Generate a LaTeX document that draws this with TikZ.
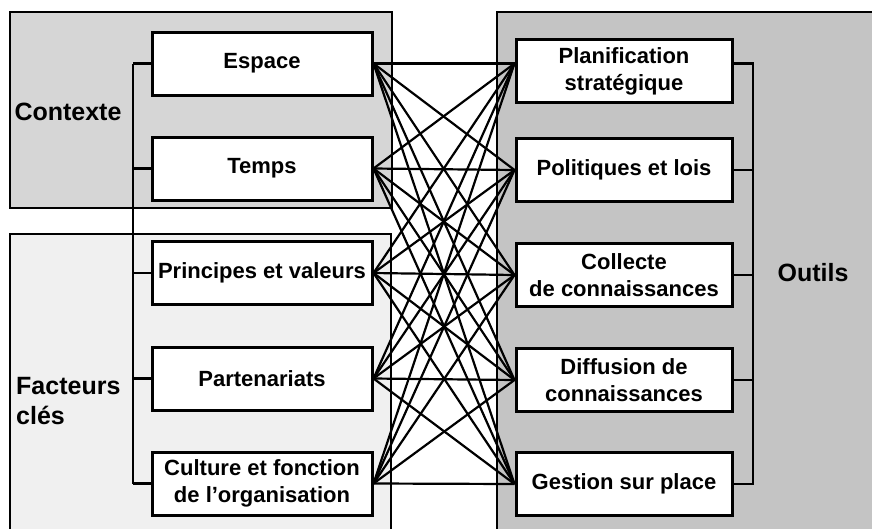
\documentclass[tikz,border=0pt]{standalone}
\usepackage{fontspec}
\setmainfont{Liberation Sans}
\definecolor{ctxfill}{gray}{0.84}
\definecolor{facfill}{gray}{0.94}
\definecolor{outfill}{gray}{0.77}
\begin{document}
\begin{tikzpicture}[x=1pt,y=-1pt,
  panel/.style={draw=black,line width=2.2pt},
  box/.style={draw=black,fill=white,line width=3pt,minimum width=220pt,minimum height=63pt,inner sep=0pt,align=center,font=\fontsize{22}{27}\selectfont\bfseries},
  rbox/.style={box,minimum width=216pt},
  lbl/.style={font=\fontsize{25}{30}\selectfont\bfseries,align=left,inner sep=0pt},
  link/.style={line width=2.2pt}]
\useasboundingbox (0,0) rectangle (872,528);
\begin{scope}
\clip (0,0) rectangle (872,528);
\draw[panel,fill=ctxfill] (10,12) rectangle (392,208);
\draw[panel,fill=facfill] (10,234) rectangle (391,540);
\draw[panel,fill=outfill] (497,12) rectangle (890,540);
\end{scope}
% labels
\node[lbl] (ctx) at (68,112) {Contexte};
\node[lbl,anchor=west] (fac) at (16,401) {Facteurs\\clés};
\node[lbl] (out) at (813,273) {Outils};
% left boxes
\node[box] (l1) at (262,63.5) {Espace};
\node[box] (l2) at (262,168.5) {Temps};
\node[box] (l3) at (262,273) {Principes et valeurs};
\node[box] (l4) at (262,378.5) {Partenariats};
\node[box] (l5) at (262,483.5) {Culture et fonction\\de l’organisation};
% right boxes
\node[rbox] (r1) at (624,71) {Planification\\stratégique};
\node[rbox] (r2) at (624,170) {Politiques et lois};
\node[rbox] (r3) at (624,275) {Collecte\\de connaissances};
\node[rbox] (r4) at (624,380) {Diffusion de\\connaissances};
\node[rbox] (r5) at (624,484) {Gestion sur place};
% connection points
\coordinate (p1) at (r1.west |- l1.east);
\coordinate (q1) at (r1.east |- l1.east);
\coordinate (p2) at (r2.west);
\coordinate (p3) at (r3.west);
\coordinate (p4) at (r4.west);
\coordinate (p5) at (r5.west);
% left bracket
\coordinate (lb1) at (133,0 |- l1.west);
\coordinate (lb5) at (133,0 |- l5.west);
\draw[link] (lb1) -- (lb5);
\foreach \i in {1,...,5} {\draw[link] (l\i.west) -- (lb1 |- l\i.west);}
% right bracket
\coordinate (rb1) at (753,0 |- q1);
\coordinate (rb5) at (753,0 |- r5.east);
\draw[link] (q1) -- (rb1) -- (rb5) -- (r5.east);
\foreach \i in {2,3,4} {\draw[link] (r\i.east) -- (rb1 |- r\i.east);}
% cross links
\foreach \i in {1,...,5} {
  \foreach \j in {1,...,5} {
    \draw[link] (l\i.east) -- (p\j);
  }
}
\end{tikzpicture}
\end{document}
